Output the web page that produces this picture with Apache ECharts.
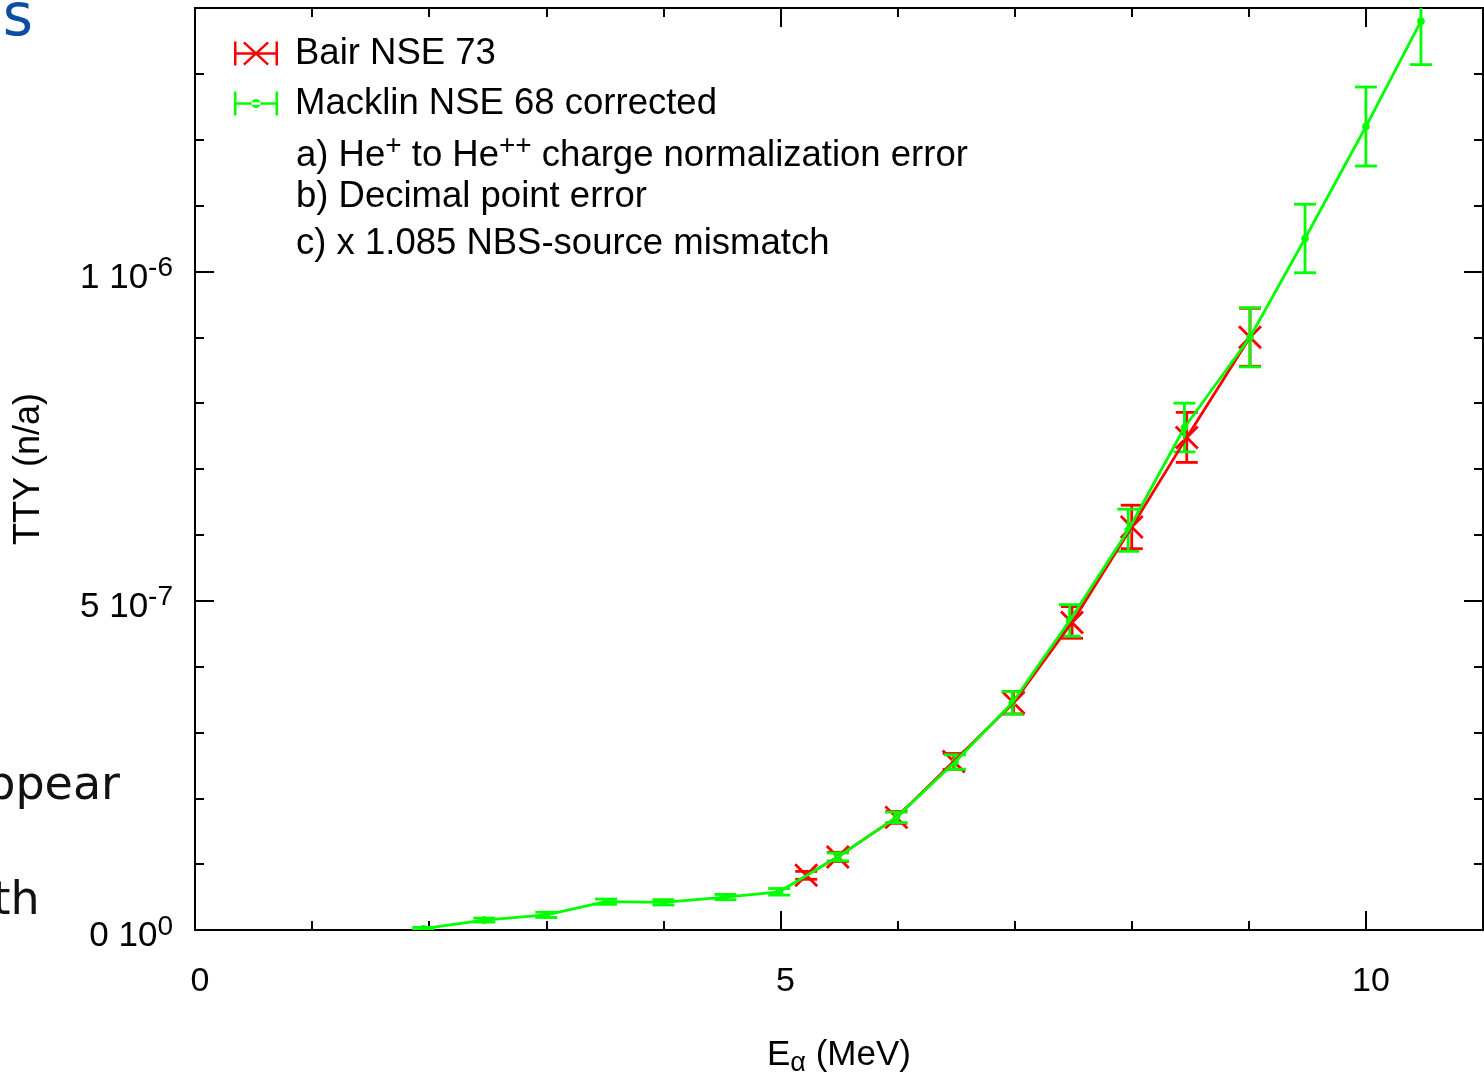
<!DOCTYPE html>
<html>
<head>
<meta charset="utf-8">
<script src="https://cdn.jsdelivr.net/npm/echarts@6/dist/echarts.min.js"></script>
<style>
  html, body { margin: 0; padding: 0; background: #fff; }
  #chart { width: 1484px; height: 1074px; }
</style>
</head>
<body>
<div id="chart"></div>
<script>
// Thick-target yield versus alpha energy.
// Macklin NSE 68 (corrected): energy (MeV), yield (n/a), 1-sigma error
const macklinE   = [1.95, 2.47, 3.00, 3.51, 4.00, 4.53, 4.99, 5.49, 5.99, 6.49, 6.98, 7.47, 7.97, 8.45, 9.01, 9.48, 10.00, 10.47];
const macklinTTY = [0.2e-8, 1.5e-8, 2.3e-8, 4.3e-8, 4.2e-8, 5.0e-8, 5.8e-8, 1.11e-7, 1.71e-7, 2.55e-7, 3.45e-7, 4.70e-7, 6.07e-7, 7.63e-7, 9.00e-7, 1.050e-6, 1.220e-6, 1.380e-6];
const macklinErr = [0.2e-8, 0.3e-8, 0.4e-8, 0.4e-8, 0.4e-8, 0.4e-8, 0.5e-8, 0.6e-8, 0.8e-8, 1.1e-8, 1.7e-8, 2.4e-8, 3.2e-8, 3.7e-8, 4.5e-8, 5.2e-8, 6.0e-8, 6.6e-8];

// Bair NSE 73
const bairE   = [5.22, 5.49, 5.99, 6.48, 6.99, 7.49, 8.00, 8.47, 9.01];
const bairTTY = [8.3e-8, 1.11e-7, 1.71e-7, 2.56e-7, 3.45e-7, 4.67e-7, 6.12e-7, 7.48e-7, 9.00e-7];
const bairErr = [0.6e-8, 0.7e-8, 0.9e-8, 1.2e-8, 1.7e-8, 2.4e-8, 3.3e-8, 3.8e-8, 4.4e-8];

// Tick labels
const xTickValues = [0, 5, 10];
const xTickLabels = ['0', '5', '10'];
const yTickValues   = [0, 5e-7, 1e-6];
const yTickMantissa = ['0', '5', '1'];
const yTickExponent = ['0', '-7', '-6'];

// Notes listed under the legend
const notes = [
  'a) He{s|+} to He{s|++} charge normalization error',
  'b) Decimal point error',
  'c) x 1.085 NBS-source mismatch'
];

const FONT = 'Liberation Sans, Arial, sans-serif';
const RED = '#ff0000';
const GREEN = '#00ff00';

const bairData = bairE.map((e, i) => [e, bairTTY[i], bairErr[i]]);
const macklinData = macklinE.map((e, i) => [e, macklinTTY[i], macklinErr[i]]);

function errorBarRenderer(marker, color) {
  return function (params, api) {
    const x = api.value(0), y = api.value(1), e = api.value(2);
    const c = api.coord([x, y]);
    const hi = api.coord([x, y + e]);
    const lo = api.coord([x, y - e]);
    const w = 11;
    const st = () => ({ stroke: color, lineWidth: 2.8, fill: null });
    const children = [
      { type: 'line', shape: { x1: c[0], y1: hi[1], x2: c[0], y2: lo[1] }, style: st() },
      { type: 'line', shape: { x1: c[0] - w, y1: hi[1], x2: c[0] + w, y2: hi[1] }, style: st() },
      { type: 'line', shape: { x1: c[0] - w, y1: lo[1], x2: c[0] + w, y2: lo[1] }, style: st() }
    ];
    if (marker === 'cross') {
      const r = 11;
      children.push({ type: 'line', shape: { x1: c[0] - r, y1: c[1] - r, x2: c[0] + r, y2: c[1] + r }, style: st() });
      children.push({ type: 'line', shape: { x1: c[0] - r, y1: c[1] + r, x2: c[0] + r, y2: c[1] - r }, style: st() });
    } else {
      children.push({ type: 'circle', shape: { cx: c[0], cy: c[1], r: 3.8 }, style: { fill: color } });
    }
    return { type: 'group', children };
  };
}

const redIcon = 'path://M0,0h2.5v24h-2.5z M41.5,0h2.5v24h-2.5z M0,10.8h44v2.4h-44z M9,1.7L10.7,0L35,22.3L33.3,24z M33.3,0L35,1.7L10.7,24L9,22.3z';
const greenIcon = 'path://M0,0h2.5v24h-2.5z M41.5,0h2.5v24h-2.5z M0,10.8h44v2.4h-44z M17.5,12a4.5,4.5 0 1,0 9,0a4.5,4.5 0 1,0 -9,0z';

const frameLine = { show: true, onZero: false, lineStyle: { color: '#000', width: 2 } };
function xAxisDef(pos, major) {
  return {
    type: 'value', position: pos, min: 0, max: 11, interval: major ? 5 : 1,
    axisLine: frameLine,
    axisTick: { show: true, inside: true, length: major ? 19 : 9, lineStyle: { color: '#000', width: 2 } },
    axisLabel: (major && pos === 'bottom') ? {
      show: true, margin: 35, fontSize: 34, fontFamily: FONT, color: '#000', padding: [0, 0, 0, 10],
      formatter: v => { const i = xTickValues.findIndex(t => Math.abs(t - v) < 1e-9); return i < 0 ? '' : xTickLabels[i]; }
    } : { show: false },
    splitLine: { show: false }
  };
}
function yAxisDef(pos, major) {
  return {
    type: 'value', position: pos, min: 0, max: 1.4e-6, interval: major ? 5e-7 : 1e-7,
    axisLine: frameLine,
    axisTick: { show: true, inside: true, length: major ? 19 : 9, lineStyle: { color: '#000', width: 2 } },
    axisLabel: (major && pos === 'left') ? {
      show: true, margin: 22, fontFamily: FONT, color: '#000', padding: [7, 0, 0, 0],
      formatter: v => {
        const i = yTickValues.findIndex(t => Math.abs(t - v) < 1e-12);
        return i < 0 ? '' : '{m|' + yTickMantissa[i] + ' 10}{e|' + yTickExponent[i] + '}';
      },
      rich: {
        m: { fontSize: 35, fontFamily: FONT, color: '#000', verticalAlign: 'bottom' },
        e: { fontSize: 28, fontFamily: FONT, color: '#000', verticalAlign: 'bottom', padding: [0, 0, 13, 0] }
      }
    } : { show: false },
    splitLine: { show: false }
  };
}

const xAxes = [xAxisDef('bottom', false), xAxisDef('bottom', true), xAxisDef('top', false), xAxisDef('top', true)];
xAxes[1].name = 'E{sub|α} (MeV)';
xAxes[1].nameLocation = 'middle';
xAxes[1].nameGap = 104;
xAxes[1].nameTextStyle = {
  fontSize: 35, fontFamily: FONT, color: '#000',
  rich: { sub: { fontSize: 27, fontFamily: FONT, color: '#000', verticalAlign: 'top', padding: [16, 0, 0, 0] } }
};
const yAxes = [yAxisDef('left', false), yAxisDef('left', true), yAxisDef('right', false), yAxisDef('right', true)];
yAxes[1].name = 'TTY (n/a)';
yAxes[1].nameLocation = 'middle';
yAxes[1].nameGap = 148;
yAxes[1].nameTextStyle = { fontSize: 36, fontFamily: FONT, color: '#000' };

const noteCenters = [156, 197, 244];
const graphics = notes.map((t, i) => ({
  type: 'text', x: 296, y: noteCenters[i], z: 10,
  style: {
    text: t, fill: '#000', font: '36.5px ' + FONT, verticalAlign: 'middle',
    rich: { s: { fontSize: 28, fontFamily: FONT, fill: '#000', verticalAlign: 'bottom', padding: [0, 0, 19, 0] } }
  }
}));
// Fragments of the surrounding slide text at the left edge
graphics.push(
  { type: 'text', x: -34, y: 20, style: { text: 'ns', fill: '#0b4ea2', font: '58px DejaVu Sans', verticalAlign: 'middle' } },
  { type: 'text', x: -42, y: 787, style: { text: 'appear', fill: '#111', font: '46px DejaVu Sans', verticalAlign: 'middle' } },
  { type: 'text', x: -58, y: 902, style: { text: 'with', fill: '#111', font: '46px DejaVu Sans', verticalAlign: 'middle' } }
);

const chart = echarts.init(document.getElementById('chart'), null, { renderer: 'canvas' });
chart.setOption({
  backgroundColor: '#fff',
  animation: false,
  grid: { left: 195, right: 1, top: 8, bottom: 144, containLabel: false, outerBoundsMode: 'none' },
  xAxis: xAxes,
  yAxis: yAxes,
  legend: {
    left: 229, top: 30, orient: 'vertical', selectedMode: false,
    itemWidth: 44, itemHeight: 24, itemGap: 13,
    textStyle: { fontSize: 36.5, fontFamily: FONT, color: '#000', lineHeight: 36, padding: [0, 0, 0, 12] },
    data: [{ name: 'Bair NSE 73', icon: redIcon }, { name: 'Macklin NSE 68 corrected', icon: greenIcon }]
  },
  graphic: graphics,
  series: [
    {
      name: 'Bair NSE 73', type: 'line', data: bairData, xAxisIndex: 0, yAxisIndex: 0,
      showSymbol: false, color: RED, itemStyle: { color: RED },
      lineStyle: { color: RED, width: 2.8 }, encode: { x: 0, y: 1 }
    },
    {
      name: 'Bair NSE 73', type: 'custom', data: bairData, xAxisIndex: 0, yAxisIndex: 0,
      color: RED, clip: true, encode: { x: 0, y: 1 }, renderItem: errorBarRenderer('cross', RED)
    },
    {
      name: 'Macklin NSE 68 corrected', type: 'line', data: macklinData, xAxisIndex: 0, yAxisIndex: 0,
      showSymbol: false, color: GREEN, itemStyle: { color: GREEN },
      lineStyle: { color: GREEN, width: 2.8 }, encode: { x: 0, y: 1 }
    },
    {
      name: 'Macklin NSE 68 corrected', type: 'custom', data: macklinData, xAxisIndex: 0, yAxisIndex: 0,
      color: GREEN, clip: true, encode: { x: 0, y: 1 }, renderItem: errorBarRenderer('dot', GREEN)
    }
  ]
});
</script>
</body>
</html>
